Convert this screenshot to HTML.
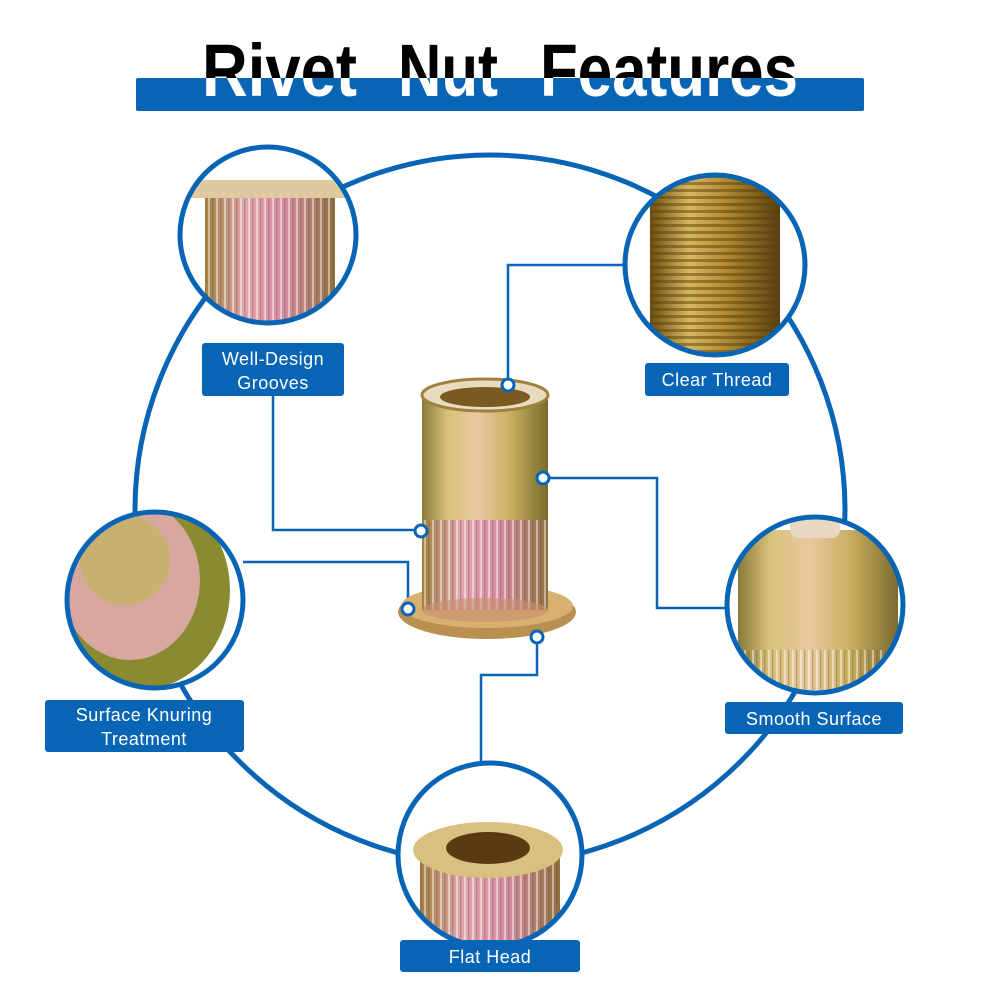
<!DOCTYPE html>
<html><head><meta charset="utf-8"><style>
html,body{margin:0;padding:0;background:#fff;width:1000px;height:1000px;overflow:hidden}
svg{display:block}
.lbl{font-family:"Liberation Sans",sans-serif;font-size:18px;fill:#fff;text-anchor:middle;letter-spacing:0.5px}
.tt{font-family:"Liberation Sans",sans-serif;font-weight:bold;font-size:74px}
</style></head><body>
<svg width="1000" height="1000" viewBox="0 0 1000 1000" xmlns="http://www.w3.org/2000/svg">
<defs>
<clipPath id="bar"><rect x="136" y="78" width="728" height="33"/></clipPath>
<linearGradient id="brass" x1="0" x2="1" y1="0" y2="0">
<stop offset="0" stop-color="#8a7a3a"/><stop offset="0.2" stop-color="#d8c27a"/><stop offset="0.45" stop-color="#e8c9a0"/><stop offset="0.7" stop-color="#c9b060"/><stop offset="1" stop-color="#7a6a30"/></linearGradient>
<linearGradient id="pink" x1="0" x2="1"><stop offset="0" stop-color="#a08040"/><stop offset="0.3" stop-color="#e0a8b0"/><stop offset="0.6" stop-color="#d890a8"/><stop offset="1" stop-color="#907040"/></linearGradient>
<linearGradient id="gold" x1="0" x2="1"><stop offset="0" stop-color="#6b5010"/><stop offset="0.3" stop-color="#d9b860"/><stop offset="0.6" stop-color="#b08830"/><stop offset="1" stop-color="#5a4010"/></linearGradient>
<pattern id="ribs" width="8" height="10" patternUnits="userSpaceOnUse"><rect x="0" width="2" height="10" fill="#ffffff" opacity="0.45"/><rect x="4" width="1.5" height="10" fill="#7a5030" opacity="0.35"/></pattern>
<pattern id="thread" width="10" height="7" patternUnits="userSpaceOnUse"><rect width="10" height="3" fill="#5a4010" opacity="0.5"/></pattern>
<clipPath id="c1"><circle cx="268" cy="235" r="88"/></clipPath>
<clipPath id="c2"><circle cx="715" cy="265" r="90"/></clipPath>
<clipPath id="c3"><circle cx="155" cy="600" r="88"/></clipPath>
<clipPath id="c4"><circle cx="815" cy="605" r="88"/></clipPath>
<clipPath id="c5"><circle cx="490" cy="855" r="92"/></clipPath>
</defs>

<!-- title -->
<g class="tt" fill="#000">
<text x="202" y="96" textLength="155" lengthAdjust="spacingAndGlyphs">Rivet</text>
<text x="398" y="96" textLength="100" lengthAdjust="spacingAndGlyphs">Nut</text>
<text x="540" y="96" textLength="258" lengthAdjust="spacingAndGlyphs">Features</text>
</g>
<rect x="136" y="78" width="728" height="33" rx="2" fill="#0865b5"/>
<g class="tt" fill="#fff" clip-path="url(#bar)">
<text x="202" y="96" textLength="155" lengthAdjust="spacingAndGlyphs">Rivet</text>
<text x="398" y="96" textLength="100" lengthAdjust="spacingAndGlyphs">Nut</text>
<text x="540" y="96" textLength="258" lengthAdjust="spacingAndGlyphs">Features</text>
</g>

<circle cx="490" cy="510" r="355" fill="none" stroke="#0865b5" stroke-width="5"/>

<g fill="none" stroke="#0865b5" stroke-width="2.5">
<polyline points="273,396 273,530 420,530"/>
<polyline points="508,385 508,265 625,265"/>
<polyline points="543,478 657,478 657,608 727,608"/>
<polyline points="243,562 408,562 408,608"/>
<polyline points="537,636 537,675 481,675 481,765"/>
</g>

<g>
<ellipse cx="487" cy="612" rx="89" ry="27" fill="#b89050"/>
<ellipse cx="487" cy="606" rx="86" ry="22" fill="#d8b070"/>
<rect x="422" y="395" width="126" height="215" fill="url(#brass)"/>
<rect x="422" y="520" width="126" height="90" fill="url(#pink)"/>
<rect x="422" y="520" width="126" height="90" fill="url(#ribs)"/>
<ellipse cx="485" cy="610" rx="63" ry="12" fill="#c89070" opacity="0.6"/>
<ellipse cx="485" cy="395" rx="63" ry="16" fill="#e8dcc0" stroke="#a08040" stroke-width="3"/>
<ellipse cx="485" cy="397" rx="45" ry="10" fill="#7a5a20"/>
</g>
<g fill="#fff" stroke="#0865b5" stroke-width="3">
<circle cx="508" cy="385" r="6"/><circle cx="543" cy="478" r="6"/><circle cx="421" cy="531" r="6"/><circle cx="408" cy="609" r="6"/><circle cx="537" cy="637" r="6"/>
</g>

<g clip-path="url(#c1)"><rect x="170" y="140" width="200" height="200" fill="#fff"/><rect x="180" y="180" width="180" height="18" fill="#e0c8a0"/><rect x="205" y="198" width="130" height="130" fill="url(#pink)"/><rect x="205" y="198" width="130" height="130" fill="url(#ribs)"/></g>
<g clip-path="url(#c2)"><rect x="620" y="170" width="200" height="200" fill="#fff"/><rect x="650" y="170" width="130" height="200" fill="url(#gold)"/><rect x="650" y="170" width="130" height="200" fill="url(#thread)"/></g>
<g clip-path="url(#c3)"><rect x="60" y="510" width="200" height="200" fill="#fff"/><ellipse cx="140" cy="590" rx="90" ry="100" fill="#8a8a30"/><ellipse cx="130" cy="580" rx="70" ry="80" fill="#d8a8a0"/><ellipse cx="125" cy="560" rx="45" ry="45" fill="#c8b070"/></g>
<g clip-path="url(#c4)"><rect x="720" y="510" width="200" height="200" fill="#fff"/><rect x="738" y="530" width="160" height="160" fill="url(#brass)"/><rect x="738" y="650" width="160" height="40" fill="url(#ribs)"/><rect x="790" y="518" width="50" height="20" rx="8" fill="#e8d8c0"/></g>
<g clip-path="url(#c5)"><rect x="395" y="760" width="200" height="200" fill="#fff"/><rect x="420" y="850" width="140" height="100" fill="url(#pink)"/><rect x="420" y="850" width="140" height="100" fill="url(#ribs)"/><ellipse cx="488" cy="850" rx="75" ry="28" fill="#d8c080"/><ellipse cx="488" cy="848" rx="42" ry="16" fill="#5a3a10"/></g>
<g fill="none" stroke="#0865b5" stroke-width="5">
<circle cx="268" cy="235" r="88"/><circle cx="715" cy="265" r="90"/><circle cx="155" cy="600" r="88"/><circle cx="815" cy="605" r="88"/><circle cx="490" cy="855" r="92"/>
</g>

<g fill="#0865b5">
<rect x="202" y="343" width="142" height="53" rx="3"/>
<rect x="645" y="363" width="144" height="33" rx="3"/>
<rect x="45" y="700" width="199" height="52" rx="3"/>
<rect x="725" y="702" width="178" height="32" rx="3"/>
<rect x="400" y="940" width="180" height="32" rx="3"/>
</g>
<text class="lbl" x="273" y="365">Well-Design</text>
<text class="lbl" x="273" y="389">Grooves</text>
<text class="lbl" x="717" y="386">Clear Thread</text>
<text class="lbl" x="144" y="721">Surface Knuring</text>
<text class="lbl" x="144" y="745">Treatment</text>
<text class="lbl" x="814" y="725">Smooth Surface</text>
<text class="lbl" x="490" y="963">Flat Head</text>
</svg>
</body></html>
